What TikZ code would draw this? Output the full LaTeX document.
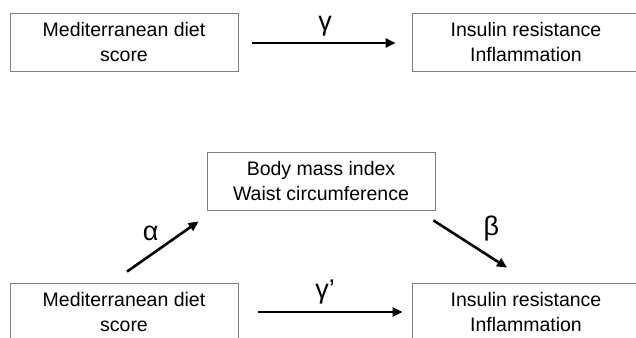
\documentclass[tikz,border=0pt]{standalone}
\usepackage{fontspec}
\setmainfont{Liberation Sans}
\usetikzlibrary{arrows.meta,positioning}
\tikzset{%
  factor/.style = {shape=rectangle, draw=black!50, line width=0.8pt,%
                   minimum width=228pt, minimum height=58pt,%
                   align=center, inner sep=0pt,%
                   font=\fontsize{19.5}{24.5}\selectfont},%
  effect/.style = {line width=2.6pt, -{Triangle[length=10pt,width=9pt]}},%
  coef/.style   = {font=\fontsize{27}{30}\selectfont, inner sep=1pt}%
}

\begin{document}
\begin{tikzpicture}[x=1pt,y=-1pt]%
	\clip (0,0) rectangle (636,337);
	% total effect
	\node[factor] (diet1) at (124,42) {Mediterranean diet\\score};%
	\node[factor] (ir1) at (526,42) {Insulin resistance\\Inflammation};%
	\draw[effect, shorten <=14pt, shorten >=16pt] ([yshift=-1pt]diet1.east) --
		node[coef, above=5pt] {γ} ([yshift=-1pt]ir1.west);%
	% mediation through body size
	\node[factor] (bmi) at (321,181) {Body mass index\\Waist circumference};%
	\node[factor] (diet2) at (124,312) {Mediterranean diet\\score};%
	\node[factor] (ir2) at (526,312) {Insulin resistance\\Inflammation};%
	\draw[effect] ([shift={(3,-11)}]diet2.north) --
		node[coef, above left=3pt and 2pt] {α} ([shift={(-8,11)}]bmi.south west);%
	\draw[effect] ([shift={(-2,10)}]bmi.south east) --
		node[coef, above right=1pt and 11pt] {β} ([shift={(-19,-15)}]ir2.north);%
	\draw[effect, shorten <=20pt, shorten >=9pt] (diet2) --
		node[coef, above=6pt] {γ’} (ir2);%
\end{tikzpicture}
\end{document}
